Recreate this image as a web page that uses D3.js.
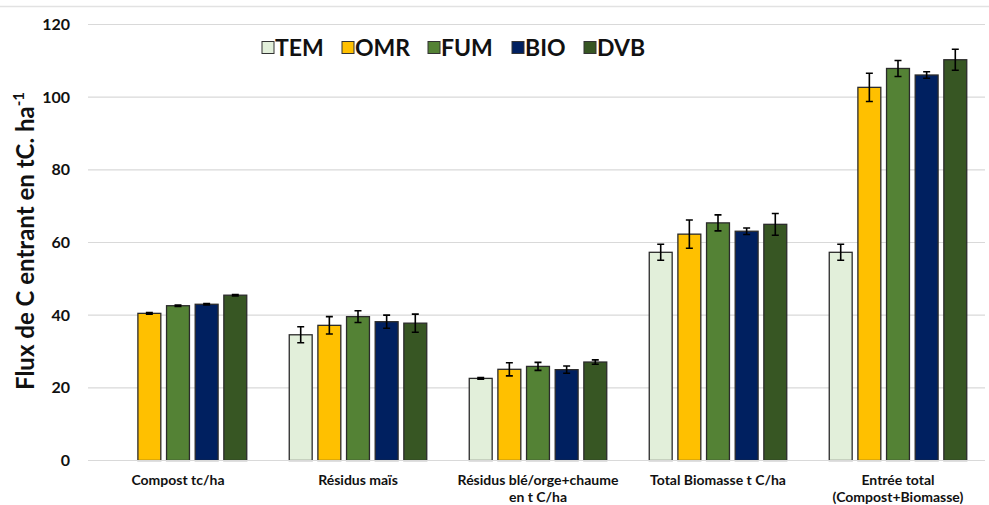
<!DOCTYPE html>
<html>
<head>
<meta charset="utf-8">
<script src="https://cdn.jsdelivr.net/npm/d3@7/dist/d3.min.js"></script>
<style>
  html, body { margin: 0; padding: 0; background: #fff; }
  svg { display: block; font-family: Lato, "Open Sans", "DejaVu Sans", sans-serif; }
</style>
</head>
<body>
<svg id="chart" width="989" height="505"></svg>
<script>
// Carbon input flux per category and treatment (t C/ha)
const categories = [
  ["Compost tc/ha"],
  ["Résidus maïs"],
  ["Résidus blé/orge+chaume", "en t C/ha"],
  ["Total Biomasse t C/ha"],
  ["Entrée total", "(Compost+Biomasse)"]
];
const seriesNames = ["TEM", "OMR", "FUM", "BIO", "DVB"];
const seriesColors = ["#E2EFDA", "#FFC000", "#548235", "#002060", "#375623"];

// Means per series, one value per category (null = no bar)
const TEM = [null, 34.6, 22.6, 57.3, 57.3];
const OMR = [40.5, 37.2, 25.1, 62.3, 102.7];
const FUM = [42.6, 39.6, 25.9, 65.4, 107.9];
const BIO = [43.0, 38.2, 25.0, 63.1, 106.1];
const DVB = [45.5, 37.8, 27.1, 65.0, 110.3];

// Standard errors
const TEM_err = [null, 2.2, 0.2, 2.2, 2.2];
const OMR_err = [0.2, 2.4, 1.8, 3.9, 3.9];
const FUM_err = [0.2, 1.6, 1.1, 2.2, 2.2];
const BIO_err = [0.2, 1.8, 1.0, 0.9, 0.9];
const DVB_err = [0.2, 2.5, 0.6, 3.0, 2.9];

const yTicks = [0, 20, 40, 60, 80, 100, 120];

const values = [TEM, OMR, FUM, BIO, DVB];
const errors = [TEM_err, OMR_err, FUM_err, BIO_err, DVB_err];

const svg = d3.select("#chart");
const plotLeft = 88, plotRight = 988, plotTop = 24.5, plotBottom = 460.5;

const x0 = d3.scaleBand().domain(d3.range(categories.length)).range([plotLeft, plotRight]);
const x1 = d3.scaleBand().domain(seriesNames).range([0, 137.5]).paddingInner(0.2);
const y = d3.scaleLinear().domain([0, 120]).range([plotBottom, plotTop]);

// outer frame line at top
svg.append("line").attr("x1", 0).attr("x2", 989).attr("y1", 6.5).attr("y2", 6.5)
  .attr("stroke", "#e2e2e2").attr("stroke-width", 1.5);

// gridlines
svg.append("g").selectAll("line").data(yTicks.filter(d => d > 0)).join("line")
  .attr("x1", plotLeft).attr("x2", 985)
  .attr("y1", d => y(d)).attr("y2", d => y(d))
  .attr("stroke", "#d9d9d9").attr("stroke-width", 1.2);

// y tick labels
svg.append("g").selectAll("text").data(yTicks).join("text")
  .attr("x", 70).attr("y", d => y(d)).attr("dy", "0.35em")
  .attr("text-anchor", "end").attr("font-weight", 700).attr("font-size", 16)
  .attr("fill", "#111").text(d => d);

// y axis title
const yt = svg.append("text")
  .attr("transform", "translate(34,241) rotate(-90)")
  .attr("text-anchor", "middle").attr("font-weight", 700).attr("font-size", 24)
  .attr("fill", "#111");
yt.append("tspan").text("Flux de C entrant en tC. ha");
yt.append("tspan").attr("font-size", 15).attr("dy", -10).text("-1");

// bars
const groups = svg.append("g").selectAll("g").data(categories).join("g")
  .attr("transform", (d, i) => `translate(${x0(i) + x0.bandwidth() / 2 - 68.75},0)`);

groups.each(function(c, ci) {
  const g = d3.select(this);
  seriesNames.forEach((s, si) => {
    const v = values[si][ci];
    if (v == null) return;
    g.append("rect")
      .attr("x", x1(s)).attr("y", y(v))
      .attr("width", x1.bandwidth()).attr("height", y(0) - y(v))
      .attr("fill", seriesColors[si]).attr("stroke", "#2b2b2b").attr("stroke-width", 1.3);
    const e = errors[si][ci];
    const cx = x1(s) + x1.bandwidth() / 2;
    g.append("path")
      .attr("d", `M${cx},${y(v + e)}V${y(v - e)}M${cx - 3.5},${y(v + e)}H${cx + 3.5}M${cx - 3.5},${y(v - e)}H${cx + 3.5}`)
      .attr("stroke", "#000").attr("stroke-width", 1.6).attr("fill", "none");
  });
});

// x baseline
svg.append("line").attr("x1", plotLeft).attr("x2", 985).attr("y1", plotBottom).attr("y2", plotBottom)
  .attr("stroke", "#d9d9d9").attr("stroke-width", 1.2);

// category labels
svg.append("g").selectAll("text").data(categories).join("text")
  .attr("x", (d, i) => x0(i) + x0.bandwidth() / 2)
  .attr("y", 485).attr("text-anchor", "middle")
  .attr("font-weight", 700).attr("font-size", 14).attr("fill", "#111")
  .each(function(lines) {
    const t = d3.select(this);
    lines.forEach((l, k) => {
      t.append("tspan").attr("x", t.attr("x")).attr("dy", k === 0 ? 0 : 17).text(l);
    });
  });

// legend
const legendX = [262, 342, 428, 512, 584];
const legend = svg.append("g");
seriesNames.forEach((s, i) => {
  legend.append("rect").attr("x", legendX[i]).attr("y", 41.5).attr("width", 12).attr("height", 12)
    .attr("fill", seriesColors[i]).attr("stroke", "#333").attr("stroke-width", 1);
  legend.append("text").attr("x", legendX[i] + 13).attr("y", 47.5).attr("dy", "0.36em")
    .attr("font-weight", 700).attr("font-size", 23).attr("fill", "#111").text(s);
});
</script>
</body>
</html>
